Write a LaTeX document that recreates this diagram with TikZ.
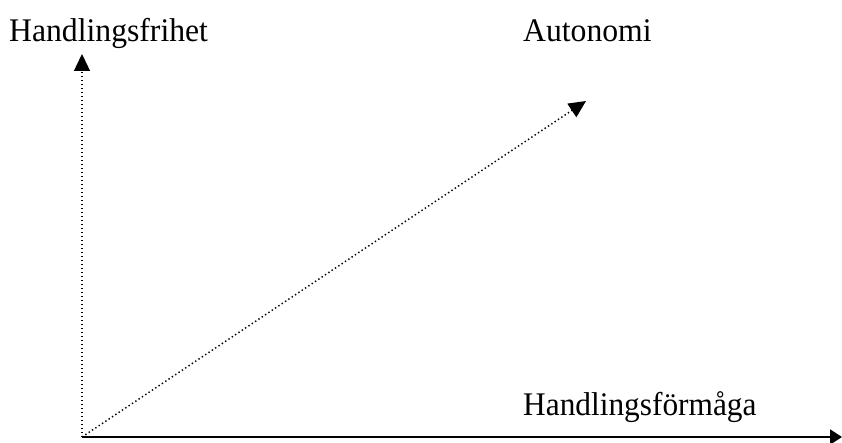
\documentclass[tikz,border=0pt]{standalone}
\usepackage{fontspec}
\setmainfont{Liberation Serif}
\usetikzlibrary{arrows.meta}
\tikzset{
  lbl/.style={anchor=base west, inner sep=0pt, font=\fontsize{33}{33}\selectfont},
  dotline/.style={line width=1.4pt, dash pattern=on 1.4pt off 2.6pt, -{Triangle[length=17pt,width=16pt]}},
  solidaxis/.style={line width=2pt, -{Triangle[length=12pt,width=15pt]}}
}
\begin{document}
\begin{tikzpicture}[x=1pt,y=-1pt]
\useasboundingbox (0,0) rectangle (842,443);
\coordinate (O) at (82,437);
\coordinate (X) at (842,437);
\coordinate (Y) at (82,54);
\coordinate (A) at (586,101);
\node[lbl] (hf) at (9,42) {\scalebox{0.96}[1]{Handlingsfrihet}};
\node[lbl] (au) at (523,42) {\scalebox{0.96}[1]{Autonomi}};
\node[lbl] (hm) at (523,415) {\scalebox{0.95}[1]{Handlingsförmåga}};
\draw[solidaxis] (O) -- (X);
\draw[dotline] (O) -- (Y);
\draw[dotline] (O) -- (A);
\end{tikzpicture}
\end{document}
